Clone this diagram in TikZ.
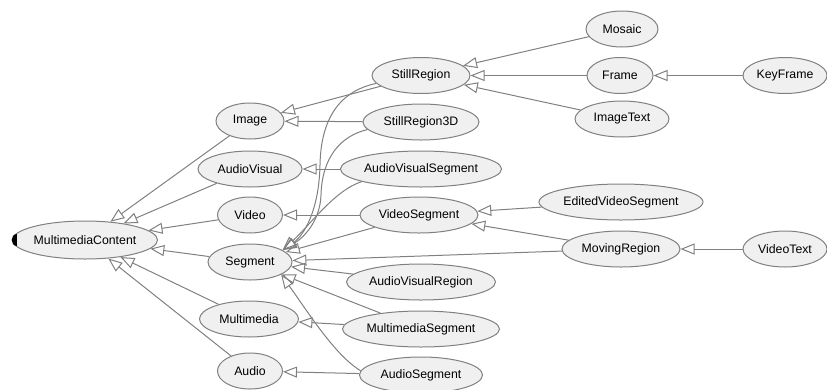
\documentclass[tikz,border=0pt]{standalone}
\usepackage{fontspec}
\setmainfont{Liberation Sans}
\usetikzlibrary{shapes.geometric,arrows.meta}
\definecolor{edgegray}{HTML}{808080}
\definecolor{nodefill}{HTML}{F0F0F0}
\begin{document}
\begin{tikzpicture}[x=1pt,y=-1pt,
  cls/.style={ellipse, draw=edgegray, fill=nodefill, line width=1pt, inner sep=0pt,
    minimum height=36pt, font=\fontsize{12.3}{14}\selectfont, text=black},
  inh/.style={draw=edgegray, line width=1pt, -{Triangle[open,length=14pt,width=11pt]}},
]
\useasboundingbox (0,0) rectangle (827,389);
% column 1
\node[cls, minimum width=144pt, minimum height=38pt] (MC) at (85,240) {MultimediaContent};
% column 2
\node[cls, minimum width=68pt]  (Image) at (250,121) {Image};
\node[cls, minimum width=104pt] (AV)    at (250,169) {AudioVisual};
\node[cls, minimum width=65pt]  (Video) at (250,215) {Video};
\node[cls, minimum width=84pt]  (Seg)   at (250,262) {Segment};
\node[cls, minimum width=99pt]  (MM)    at (249,319) {Multimedia};
\node[cls, minimum width=65pt]  (Audio) at (250,371) {Audio};
% column 3
\node[cls, minimum width=98pt]  (SR)   at (421,75.5) {StillRegion};
\node[cls, minimum width=116pt] (SR3D) at (421,122) {StillRegion3D};
\node[cls, minimum width=160pt] (AVS)  at (421,169) {AudioVisualSegment};
\node[cls, minimum width=118pt] (VS)   at (419,215) {VideoSegment};
\node[cls, minimum width=149pt] (AVR)  at (421,282) {AudioVisualRegion};
\node[cls, minimum width=157pt] (MMS)  at (421,329) {MultimediaSegment};
\node[cls, minimum width=123pt] (AS)   at (421,375) {AudioSegment};
% column 4
\node[cls, minimum width=72pt]  (Mosaic) at (622,29) {Mosaic};
\node[cls, minimum width=66pt]  (Frame)  at (620,75.5) {Frame};
\node[cls, minimum width=94pt]  (IT)     at (622,119) {ImageText};
\node[cls, minimum width=164pt] (EVS)    at (621,202) {EditedVideoSegment};
\node[cls, minimum width=118pt] (MR)     at (621,249) {MovingRegion};
% column 5
\node[cls, minimum width=84pt]  (KF) at (785,75.5) {KeyFrame};
\node[cls, minimum width=84pt]  (VT) at (785,249) {VideoText};

% edges to MultimediaContent
\draw[inh] (Image) -- (MC);
\draw[inh] (AV) -- (MC);
\draw[inh] (Video) -- (MC);
\draw[inh] (Seg) -- (MC);
\draw[inh] (MM) -- (MC);
\draw[inh] (Audio) -- (MC);
% edges to column 2
\draw[inh] (SR) -- (Image);
\draw[inh] (SR3D) -- (Image);
\draw[inh] (AVS) -- (AV);
\draw[inh] (VS) -- (Video);
\draw[inh] (VS) -- (Seg);
\draw[inh] (MR) -- (Seg);
\draw[inh] (AVR) -- (Seg);
\draw[inh] (MMS) -- (Seg);
\draw[inh] (MMS) -- (MM);
\draw[inh] (AS) -- (Audio);
\draw[inh] (SR.190) .. controls (345,90) and (321,112) .. (320,165)
  .. controls (319,212) and (303,236) .. (Seg.20);
\draw[inh] (SR3D.188) .. controls (340,136) and (322,158) .. (321,195)
  .. controls (320,222) and (303,238) .. (Seg.20);
\draw[inh] (AVS.192) .. controls (335,190) and (310,225) .. (Seg.20);
\draw[inh] (AS.176) .. controls (335,355) and (310,315) .. (Seg.-22);
% edges to column 3
\draw[inh] (Mosaic) -- (SR);
\draw[inh] (Frame) -- (SR);
\draw[inh] (IT) -- (SR);
\draw[inh] (EVS) -- (VS);
\draw[inh] (MR) -- (VS);
% edges to column 4
\draw[inh] (KF) -- (Frame);
\draw[inh] (VT) -- (MR);
% marker at the left of MultimediaContent
\fill[black] (16.5,234) .. controls (10,234) and (10,246) .. (16.5,246) -- cycle;
\end{tikzpicture}
\end{document}
